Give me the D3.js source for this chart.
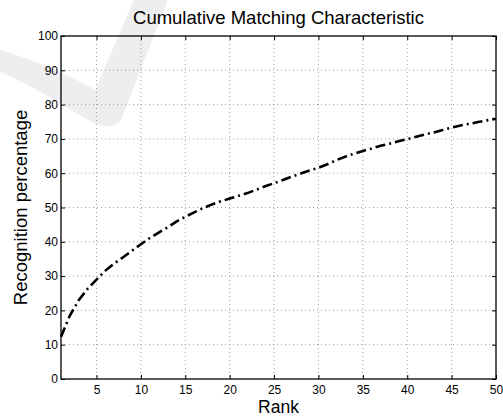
<!DOCTYPE html>
<html>
<head>
<meta charset="utf-8">
<script src="https://cdn.jsdelivr.net/npm/d3@7/dist/d3.min.js"></script>
<style>
  html, body { margin: 0; padding: 0; background: #fff; }
  svg { display: block; }
  text { font-family: "Liberation Sans", Arial, Helvetica, sans-serif; fill: #000; }
</style>
</head>
<body>
<svg id="chart" width="503" height="416"></svg>
<script>
// Rank (1..50) and the cumulative recognition rate at each rank
const ranks = d3.range(1, 51);
const recognition = [
  12.3, 18.5, 23.0, 26.3, 29.0, 31.6, 33.7, 35.5, 37.4, 39.3,
  41.1, 42.7, 44.2, 45.9, 47.3, 48.6, 49.8, 50.9, 51.8, 52.6,
  53.4, 54.2, 55.2, 56.2, 57.1, 58.0, 59.0, 59.9, 60.8, 61.6,
  62.6, 63.8, 64.8, 65.7, 66.5, 67.2, 68.0, 68.6, 69.3, 69.9,
  70.6, 71.3, 71.9, 72.6, 73.3, 73.9, 74.4, 74.9, 75.4, 75.9
];
const xTicks = [5, 10, 15, 20, 25, 30, 35, 40, 45, 50];
const yTicks = [0, 10, 20, 30, 40, 50, 60, 70, 80, 90, 100];

const titleText = "Cumulative Matching Characteristic";
const xLabel = "Rank";
const yLabel = "Recognition percentage";

const svg = d3.select("#chart");
const W = 503, H = 416;
const margin = { left: 61, right: 7, top: 36, bottom: 37 };
const iw = W - margin.left - margin.right;
const ih = H - margin.top - margin.bottom;

// faint background swoosh
svg.append("path")
  .attr("d", "M0,50 C35,60 72,76 95,90 L134,0 L168,0 L121,120 C116,127 106,128 96,124 C72,112 35,86 0,72 Z")
  .attr("fill", "#eeeeee");

const x = d3.scaleLinear().domain([1, 50]).range([0, iw]);
const y = d3.scaleLinear().domain([0, 100]).range([ih, 0]);

const g = svg.append("g").attr("transform", `translate(${margin.left},${margin.top})`);

// dotted grid
g.append("g").selectAll("line").data(xTicks.filter(d => d < 50)).join("line")
  .attr("x1", d => x(d)).attr("x2", d => x(d))
  .attr("y1", 0).attr("y2", ih)
  .attr("stroke", "#888").attr("stroke-width", 0.8).attr("stroke-dasharray", "1,3");
g.append("g").selectAll("line").data(yTicks.filter(d => d > 0 && d < 100)).join("line")
  .attr("x1", 0).attr("x2", iw)
  .attr("y1", d => y(d)).attr("y2", d => y(d))
  .attr("stroke", "#888").attr("stroke-width", 0.8).attr("stroke-dasharray", "1,3");

// axes with inward ticks
const axisStyle = sel => {
  sel.select(".domain").remove();
  sel.selectAll(".tick line").attr("stroke", "#000").attr("stroke-width", 1);
  sel.selectAll("text").style("font-size", "12px")
    .style("font-family", "'Liberation Sans', Arial, sans-serif");
};

g.append("g").attr("transform", `translate(0,${ih})`)
  .call(d3.axisBottom(x).tickValues(xTicks).tickSize(-4).tickPadding(6))
  .call(axisStyle);
g.append("g")
  .call(d3.axisLeft(y).tickValues(yTicks).tickSize(-4).tickPadding(3))
  .call(axisStyle);
g.append("g")
  .call(d3.axisTop(x).tickValues(xTicks).tickSize(-4).tickFormat(""))
  .call(axisStyle);
g.append("g").attr("transform", `translate(${iw},0)`)
  .call(d3.axisRight(y).tickValues(yTicks).tickSize(-4).tickFormat(""))
  .call(axisStyle);

// box
g.append("rect").attr("x", 0).attr("y", 0).attr("width", iw).attr("height", ih)
  .attr("fill", "none").attr("stroke", "#000").attr("stroke-width", 1.3);

// CMC curve
const line = d3.line().x((d, i) => x(ranks[i])).y(d => y(d)).curve(d3.curveLinear);
g.append("path").datum(recognition)
  .attr("d", line)
  .attr("fill", "none").attr("stroke", "#000").attr("stroke-width", 2.6)
  .attr("stroke-dasharray", "10,4,2,4");

// titles
svg.append("text").attr("x", margin.left + iw / 2).attr("y", 24)
  .attr("text-anchor", "middle").style("font-size", "18.5px").text(titleText);
svg.append("text").attr("x", margin.left + iw / 2).attr("y", 413)
  .attr("text-anchor", "middle").style("font-size", "17.5px").text(xLabel);
svg.append("text")
  .attr("transform", `translate(27,${margin.top + ih / 2}) rotate(-90)`)
  .attr("text-anchor", "middle").style("font-size", "18.5px").text(yLabel);
</script>
</body>
</html>
